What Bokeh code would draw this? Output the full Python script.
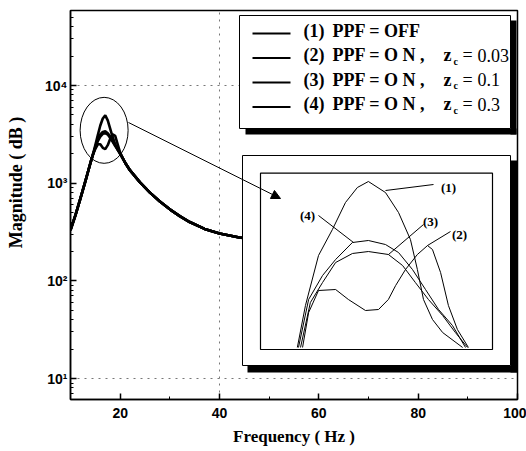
from bokeh.plotting import figure
from bokeh.models import (Range1d, LinearScale, FixedTicker, CustomJSTickFormatter,
                          Arrow, NormalHead)
from bokeh.core.properties import value
from bokeh.embed import file_html
from bokeh.resources import INLINE

# ---------------- data ----------------
main_freq = [10, 11, 12, 13, 14, 14.5, 15, 15.5, 16, 16.5, 17, 17.5, 18, 18.5, 19, 19.5,
             20, 21, 22, 24, 26, 28, 30, 32, 34, 37, 40, 44, 46]
tail = [1620, 1350, 1020, 800, 650, 540, 460, 400, 340, 305, 278, 270]
main_c1 = [330, 470, 700, 1050, 1600, 1950, 2450, 3100, 3900, 4600, 4950, 4400, 3600, 2950,
           2500, 2200, 2000] + tail
main_c2 = [330, 470, 700, 1050, 1600, 1950, 2250, 2500, 2500, 2300, 2230, 2450, 2850, 3150,
           3050, 2500, 2050] + tail
main_c3 = [330, 470, 700, 1050, 1600, 1950, 2300, 2700, 3000, 3200, 3250, 3150, 2900, 2650,
           2400, 2200, 2000] + tail
main_c4 = [330, 470, 700, 1050, 1600, 1950, 2350, 2800, 3150, 3350, 3400, 3250, 3000, 2700,
           2450, 2230, 2020] + tail

# zoomed inset (frequency, magnitude)
inset_f1 = [14.27, 14.55, 15.00, 15.48, 15.93, 16.34, 16.72, 17.31, 17.76, 18.17, 18.41, 18.62, 18.93, 19.28, 19.97]
inset_m1 = [1540, 2373, 3366, 3882, 4418, 4716, 4835, 4616, 4219, 3684, 3088, 2493, 2096, 1837, 1540]
inset_f2 = [14.45, 14.66, 15.00, 15.59, 16.03, 16.62, 17.07, 17.41, 17.66, 18.00, 18.41, 18.76, 18.93, 19.21, 19.48, 19.79, 20.17]
inset_m2 = [1540, 2234, 2671, 2691, 2493, 2274, 2294, 2493, 2770, 3088, 3386, 3564, 3485, 3028, 2373, 1897, 1540]
inset_f3 = [14.38, 14.72, 15.14, 15.59, 16.17, 16.72, 17.41, 17.90, 18.34, 18.79, 19.28, 19.72, 20.14]
inset_m3 = [1540, 2433, 2830, 3227, 3406, 3445, 3386, 3167, 2830, 2493, 2175, 1837, 1540]
inset_f4 = [14.31, 14.66, 15.14, 15.59, 16.17, 16.72, 17.31, 17.76, 18.24, 18.69, 19.14, 19.62, 20.07]
inset_m4 = [1540, 2493, 2969, 3287, 3624, 3664, 3584, 3425, 3088, 2691, 2294, 1976, 1540]

legend_labels = ["(1)", "(2)", "(3)", "(4)"]
legend_main = ["PPF = OFF", "PPF = O N ,", "PPF = O N ,", "PPF = O N ,"]
legend_zc = [None, "0.03", "0.1", "0.3"]
x_ticks = [20, 40, 60, 80, 100]
x_minor = [10, 30, 50, 70, 90]
y_ticks = [10, 100, 1000, 10000]

# ---------------- layout constants (page pixels) ----------------
W, H = 526, 451
FL, FR, FT, FB = 70, 517, 10, 399          # frame
IL, IR, IT, IB = 260, 492, 172.7, 349      # inset inner box
INSET_F = (13.0, 21.0)
INSET_M = (1500.0, 5000.0)
SERIF = value("Liberation Serif")

p = figure(width=W, height=H, x_range=Range1d(10, 100), y_range=Range1d(6.1, 58600),
           y_axis_type="log", output_backend="svg", toolbar_location=None,
           min_border_left=FL, min_border_right=W - FR, min_border_top=FT,
           min_border_bottom=H - FB,
           background_fill_color="white", border_fill_color="white")

def fx(px):
    return INSET_F[0] + (px - IL) * (INSET_F[1] - INSET_F[0]) / (IR - IL)

def my(py):
    return INSET_M[0] + (IB - py) * (INSET_M[1] - INSET_M[0]) / (IB - IT)

p.extra_x_ranges = {"px": Range1d(FL, FR), "ix": Range1d(fx(FL), fx(FR))}
p.extra_y_ranges = {"px": Range1d(FB, FT), "iy": Range1d(my(FB), my(FT))}
p.extra_x_scales = {"px": LinearScale(), "ix": LinearScale()}
p.extra_y_scales = {"px": LinearScale(), "iy": LinearScale()}

# axes
p.xaxis.ticker = FixedTicker(ticks=x_ticks, minor_ticks=x_minor)
p.yaxis.ticker = FixedTicker(ticks=y_ticks,
                             minor_ticks=[m * 10 ** e for e in range(0, 5) for m in range(2, 10)])
p.yaxis.formatter = CustomJSTickFormatter(code="""
const s = {1: '\\u00b9', 2: '\\u00b2', 3: '\\u00b3', 4: '\\u2074'};
const e = Math.round(Math.log10(tick));
return '10' + s[e];
""")
for ax in p.axis:
    ax.major_tick_in = 6
    ax.major_tick_out = 0
    ax.minor_tick_in = 3
    ax.minor_tick_out = 0
    ax.axis_line_width = 1.5
    ax.major_tick_line_width = 1.5
    ax.major_label_text_font = "Liberation Sans"
    ax.major_label_text_font_style = "bold"
    ax.major_label_text_font_size = "14px"
    ax.major_label_text_color = "black"
    ax.axis_label_text_font = "Liberation Serif"
    ax.axis_label_text_font_style = "bold"
    ax.axis_label_text_color = "black"
p.xaxis.major_label_standoff = 8
p.yaxis.major_label_standoff = 3
p.xaxis.axis_label = "Frequency ( Hz )"
p.xaxis.axis_label_text_font_size = "17px"
p.xaxis.axis_label_standoff = 6
p.yaxis.axis_label = "\u00a0" * 10 + "Magnitude ( dB )"
p.yaxis.axis_label_text_font_size = "18px"
p.yaxis.axis_label_standoff = 16
p.outline_line_color = "black"
p.outline_line_width = 1.5
p.outline_line_alpha = 1.0

p.xgrid.ticker = FixedTicker(ticks=[40])
p.ygrid.ticker = FixedTicker(ticks=[10, 10000])
p.grid.grid_line_color = "#777777"
p.grid.grid_line_dash = "2 5"
p.grid.grid_line_width = 1

# main curves
for c in (main_c1, main_c2, main_c3, main_c4):
    p.line(main_freq, c, line_color="black", line_width=2.6)

# ellipse around the peak
p.ellipse(x=[16.77], y=[3475], width=48, height=66, width_units="screen",
          height_units="screen", fill_color=None, line_color="black", line_width=1)

# legend box with shadow
p.quad(left=[245, 510], right=[516, 516], top=[128, 20], bottom=[134, 134],
       x_range_name="px", y_range_name="px", fill_color="black", line_color=None)
p.quad(left=[239], right=[510], top=[15], bottom=[128], x_range_name="px", y_range_name="px",
       fill_color="white", line_color="black", line_width=1)

# inset boxes
p.quad(left=[247, 510], right=[517, 517], top=[365, 160], bottom=[372, 372],
       x_range_name="px", y_range_name="px", fill_color="black", line_color=None)
p.quad(left=[242], right=[510], top=[155], bottom=[365], x_range_name="px", y_range_name="px",
       fill_color="white", line_color="black", line_width=1)
p.quad(left=[IL], right=[IR], top=[IT], bottom=[IB], x_range_name="px", y_range_name="px",
       fill_color="white", line_color="black", line_width=1.2)

# inset curves
for f, m in ((inset_f1, inset_m1), (inset_f2, inset_m2), (inset_f3, inset_m3), (inset_f4, inset_m4)):
    p.line(f, m, x_range_name="ix", y_range_name="iy", line_color="black", line_width=1)

# inset labels and leaders
p.segment(x0=[385, 318, 423, 450], y0=[190, 215, 224, 231],
          x1=[433, 353, 388, 427], y1=[184, 242, 254, 245],
          x_range_name="px", y_range_name="px", line_color="black", line_width=1)
p.text(x=[448, 307, 430, 459], y=[187, 215, 221, 234], text=["(1)", "(4)", "(3)", "(2)"],
       x_range_name="px", y_range_name="px", text_font=SERIF, text_font_style="bold",
       text_font_size="13px", text_align="center", text_baseline="middle", text_color="black")

# legend entries
row_y = [30, 54.5, 79, 103.5]
p.segment(x0=[252] * 4, x1=[290] * 4, y0=[y + 3 for y in row_y], y1=[y + 3 for y in row_y],
          x_range_name="px", y_range_name="px", line_color="black", line_width=2)
p.text(x=[303] * 4, y=row_y, text=legend_labels, x_range_name="px", y_range_name="px",
       text_font=SERIF, text_font_style="bold", text_font_size="18px",
       text_baseline="middle", text_color="black")
p.text(x=[332] * 4, y=row_y, text=legend_main, x_range_name="px", y_range_name="px",
       text_font=SERIF, text_font_style="bold", text_font_size="18px",
       text_baseline="middle", text_color="black")
zy = [y for y, z in zip(row_y, legend_zc) if z]
zv = [z for z in legend_zc if z]
p.text(x=[443] * len(zy), y=zy, text=["z"] * len(zy), x_range_name="px", y_range_name="px",
       text_font=SERIF, text_font_style="bold", text_font_size="18px",
       text_baseline="middle", text_color="black")
p.text(x=[453] * len(zy), y=[y + 6 for y in zy], text=["c"] * len(zy), x_range_name="px",
       y_range_name="px", text_font=SERIF, text_font_style="bold", text_font_size="10px",
       text_baseline="middle", text_color="black")
p.text(x=[462] * len(zy), y=zy, text=["="] * len(zy), x_range_name="px", y_range_name="px",
       text_font=SERIF, text_font_size="18px", text_baseline="middle", text_color="black")
p.text(x=[477] * len(zy), y=zy, text=zv, x_range_name="px", y_range_name="px",
       text_font=SERIF, text_font_size="18px", text_baseline="middle", text_color="black")

# connector arrow from ellipse to inset
p.add_layout(Arrow(x_start=128, y_start=122, x_end=280, y_end=198, x_range_name="px",
                   y_range_name="px", line_color="black", line_width=1,
                   end=NormalHead(size=9, fill_color="black", line_color="black", line_width=1)))

open("out.html", "w", encoding="utf-8").write(file_html(p, INLINE))
